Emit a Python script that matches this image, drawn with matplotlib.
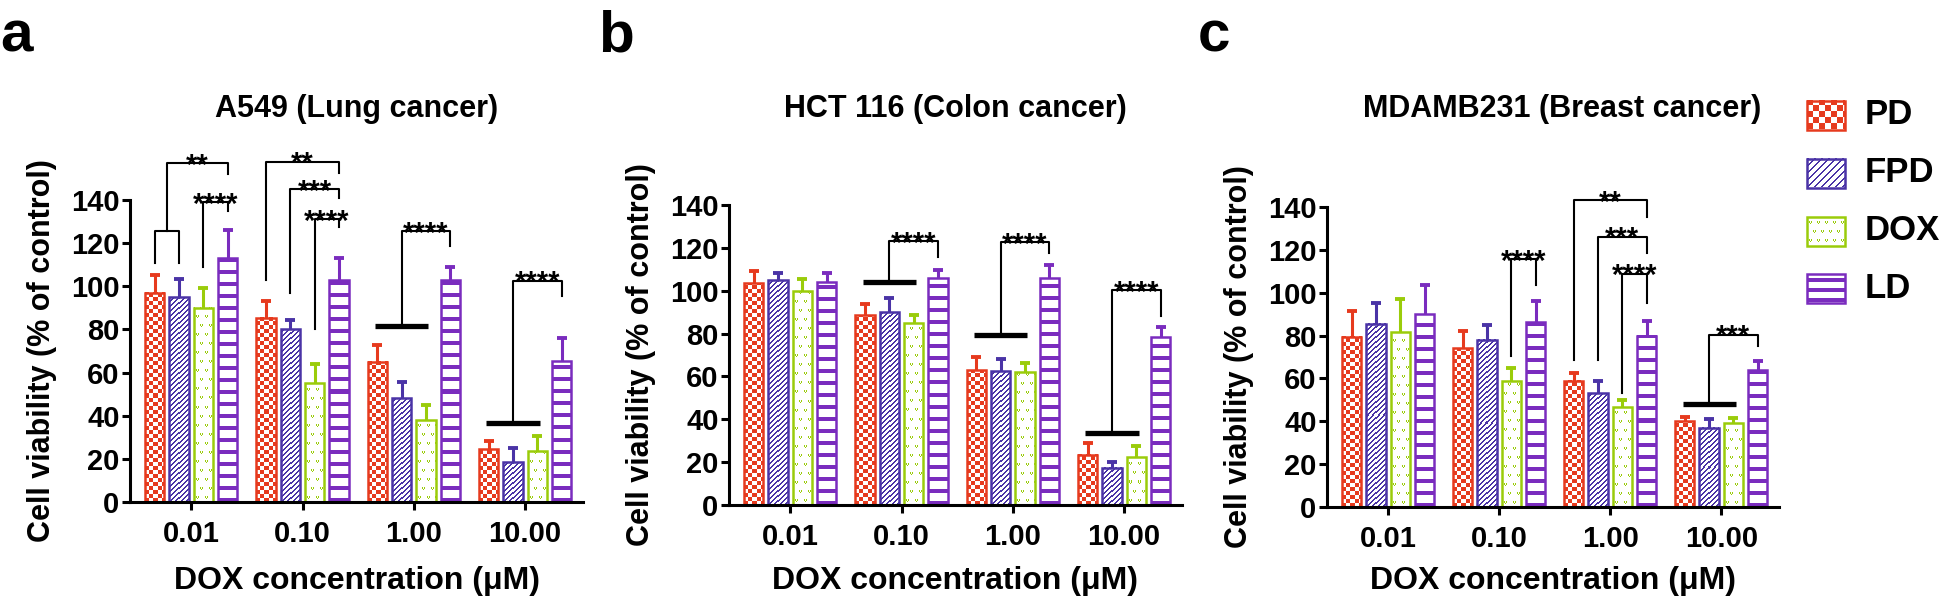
import numpy as np
import matplotlib.pyplot as plt
import matplotlib.colors as mcolors

plt.rcParams['font.family'] = ['Liberation Sans', 'DejaVu Sans']
plt.rcParams['font.weight'] = 'bold'
plt.rcParams['axes.labelweight'] = 'bold'

# ---- data ----
doses = ['0.01', '0.10', '1.00', '10.00']
groups = ['PD', 'FPD', 'DOX', 'LD']
colors = ['#E63A1E', '#4A33A6', '#9ACC0A', '#7A2CBE']
titles = ['A549 (Lung cancer)', 'HCT 116 (Colon cancer)', 'MDAMB231 (Breast cancer)']
letters = ['a', 'b', 'c']

# rows: PD, FPD, DOX, LD ; columns follow doses
a_mean = [[97, 85.5, 65, 24.5],
          [95, 80, 48, 18.5],
          [90, 55, 38, 23.5],
          [113, 103, 103, 65.5]]
a_err = [[8.4, 7.5, 8, 4],
         [8.4, 4.5, 7.5, 6.5],
         [9.2, 9, 7, 7],
         [13, 10, 6, 10.5]]

b_mean = [[103.5, 88.5, 63, 23.5],
          [105, 90, 62.5, 17.5],
          [100, 85, 62, 22.5],
          [104, 106, 106, 78.5]]
b_err = [[5.5, 5.5, 6, 5.5],
         [3.5, 6.5, 5.5, 2.5],
         [5.5, 3.5, 4.5, 5],
         [4.5, 3.5, 6, 4.5]]

c_mean = [[79.5, 74, 59, 40],
          [85.5, 78, 53, 37],
          [81.5, 59, 46.5, 39],
          [90, 86.5, 80, 64]]
c_err = [[12, 8, 3.5, 2],
         [9.5, 7, 6, 4],
         [15.5, 6, 3.5, 2.5],
         [13.5, 9.5, 7, 4]]

# thick line joining PD..DOX: (dose index, y)
a_bars = [(2, 81.7), (3, 36.4)]
b_bars = [(1, 104.3), (2, 79.4), (3, 33.4)]
c_bars = [(3, 48.2)]
# small bracket joining PD and FPD: (dose index, y, leg bottom)
a_joins = [(0, 125.8, 110.8)]
# comparisons vs LD: (dose index, left series pos, left leg bottom, top, right leg bottom, label)
a_sig = [(0, 0.5, 125.8, 157, 152, '**'),
         (0, 2, 109, 139, 135, '****'),
         (1, 0, 103, 157.7, 152.7, '**'),
         (1, 1, 96.8, 145, 141, '***'),
         (1, 2, 80, 131, 127.5, '****'),
         (2, 1, 81.7, 125.6, 118.6, '****'),
         (3, 1, 36.4, 102.5, 95.5, '****')]
b_sig = [(1, 1, 104.3, 123, 115.6, '****'),
         (2, 1, 79.4, 122.7, 117.7, '****'),
         (3, 1, 33.4, 100.2, 88.3, '****')]
c_sig = [(1, 2, 70.4, 115.6, 103.4, '****'),
         (2, 0, 68.7, 143.2, 135.5, '**'),
         (2, 1, 68.7, 126, 118.6, '***'),
         (2, 2, 53, 108.8, 95.4, '****'),
         (3, 1, 48.2, 80.3, 75, '***')]

W, H = 1946, 600
PITCH, BW = 0.219, 0.174

fig = plt.figure(figsize=(W / 100, H / 100), dpi=100)


def pattern(kind, w, h, legend=False):
    # white tile with the GraphPad style fill pattern, row 0 at the bottom
    yy, xx = np.mgrid[0:h, 0:w]
    img = np.ones((h, w, 3))
    col = np.array(mcolors.to_rgb(colors[kind]))
    if kind == 0:
        k = 6 if legend else 4
        mask = ((xx // k) + (yy // k)) % 2 == 0
    elif kind == 1:
        k = 7 if legend else 5
        mask = (xx - yy) % k < 2
    elif kind == 2:
        r = yy % 9
        c = (xx + 4 * ((yy // 9) % 2)) % 8
        mask = ((r == 3) & (c == 3)) | ((r == 4) & ((c == 2) | (c == 4))) \
            | ((r == 5) & ((c == 2) | (c == 4)))
    else:
        k = 10 if legend else 12
        mask = yy % k < 4
    img[mask] = col
    return img[::-1]


def fill_bars(ax, rects, kind, legend=False):
    for r in rects:
        x0, y0, w, h = r.get_x(), r.get_y(), r.get_width(), r.get_height()
        (p0, q0), (p1, q1) = ax.transData.transform([(x0, y0), (x0 + w, y0 + h)])
        pw, ph = max(int(round(p1 - p0)), 1), max(int(round(q1 - q0)), 1)
        ax.imshow(pattern(kind, pw, ph, legend), extent=(x0, x0 + w, y0, y0 + h),
                  aspect='auto', interpolation='nearest', zorder=1.5)


def sx(g, s):
    return g + (s - 1.5) * PITCH


panel_left = [130, 729, 1327]
panel_width = [453, 453, 452]
panel_bottom = [502, 505, 507]
panel_top = [200, 205, 207]
letter_x = [0, 598, 1198]
title_x = [0.5, 0.5, 0.52]

means = [a_mean, b_mean, c_mean]
errs = [a_err, b_err, c_err]
bars_all = [a_bars, b_bars, c_bars]
joins_all = [a_joins, [], []]
sigs = [a_sig, b_sig, c_sig]

for p in range(3):
    hp = panel_bottom[p] - panel_top[p]
    ax = fig.add_axes([panel_left[p] / W, (H - panel_bottom[p]) / H,
                       panel_width[p] / W, hp / H])
    ax.set_xlim(-0.55, 3.52)
    ax.set_ylim(0, 140)
    ax.set_autoscale_on(False)

    x = np.arange(len(doses))
    for s in range(4):
        m = np.array(means[p][s], float)
        e = np.array(errs[p][s], float)
        xs = x + (s - 1.5) * PITCH
        rects = ax.bar(xs, m, BW, facecolor='none', edgecolor=colors[s],
                       linewidth=1.8, zorder=2)
        fill_bars(ax, rects, s)
        ax.vlines(xs, m, m + e, colors=colors[s], lw=2.2, zorder=2)
        ax.plot(xs, m + e, ls='none', marker='_', ms=7.5, mew=2.8,
                color=colors[s], zorder=2)

    for g, y in bars_all[p]:
        ax.plot([sx(g, 0) - 0.02, sx(g, 2) + 0.02], [y, y], color='black',
                lw=3.8, solid_capstyle='butt', clip_on=False)
    for g, y, yb in joins_all[p]:
        ax.plot([sx(g, 0), sx(g, 0), sx(g, 1), sx(g, 1)], [yb, y, y, yb],
                color='black', lw=1.5, clip_on=False)
    for g, s, yl, yt, yr, lab in sigs[p]:
        xl, xr = sx(g, s), sx(g, 3)
        ax.plot([xl, xl, xr, xr], [yl, yt, yt, yr], color='black', lw=1.5,
                clip_on=False)
        ax.annotate(lab, ((xl + xr) / 2, yt), xytext=(0, -7.5),
                    textcoords='offset points', ha='center', va='baseline',
                    fontsize=21, fontweight='bold', annotation_clip=False)

    ax.spines[['top', 'right']].set_visible(False)
    ax.spines[['left', 'bottom']].set_linewidth(2.2)
    ax.set_xticks(x)
    ax.set_xticklabels(doses)
    ax.set_yticks(np.arange(0, 141, 20))
    ax.tick_params(axis='both', width=2.2, length=6, labelsize=21)
    ax.tick_params(axis='x', pad=7)
    ax.tick_params(axis='y', pad=1.5)

    ax.set_ylabel('Cell viability (% of control)', fontsize=22, fontweight='bold')
    ax.yaxis.set_label_coords(-(87 - 14.5) / panel_width[p], 0.5)
    ax.set_xlabel('DOX concentration (\u03bcM)', fontsize=23, fontweight='bold')
    ax.xaxis.set_label_coords(0.5, -(566 - panel_bottom[p]) / hp)
    ax.text(title_x[p], (panel_bottom[p] - 109) / hp, titles[p], transform=ax.transAxes,
            ha='center', va='center', fontsize=22, fontweight='bold')
    fig.text(letter_x[p] / W, 1 - 52 / H, letters[p], ha='left', va='baseline',
             fontsize=42, fontweight='bold')

# legend
leg = fig.add_axes([1800 / W, (H - 320) / H, 146 / W, 240 / H])
leg.set_xlim(1800, 1946)
leg.set_ylim(H - 320, H - 80)
leg.set_autoscale_on(False)
leg.axis('off')
row_y = [115, 173, 231, 288]
for s in range(4):
    yc = H - row_y[s]
    rects = leg.bar([1826], [29], 38, bottom=[yc - 14.5], facecolor='none',
                    edgecolor=colors[s], linewidth=1.8, zorder=2)
    fill_bars(leg, rects, s, legend=True)
    leg.text(1865, yc, groups[s], ha='left', va='center', fontsize=25,
             fontweight='bold')

fig.savefig('out.png', dpi=100)
